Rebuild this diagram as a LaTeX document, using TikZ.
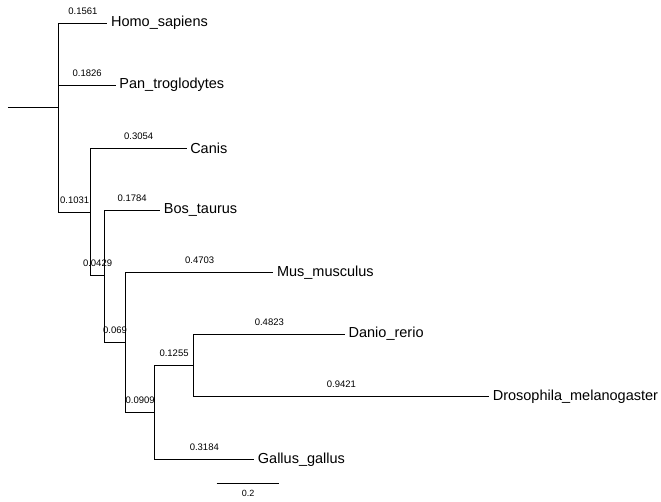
\documentclass[tikz,border=0pt]{standalone}
\usepackage{fontspec}
\newfontfamily\lsans{Liberation Sans}
\usetikzlibrary{calc}
\tikzset{
  branch/.style={draw=black, line width=0.9pt},
  tiplabel/.style={anchor=west, inner xsep=3.5pt, inner ysep=0pt, font=\lsans\fontsize{14.5}{17}\selectfont},
  elabel/.style={anchor=base, yshift=9pt, inner sep=0pt, font=\lsans\fontsize{9.5}{11}\selectfont},
  sblabel/.style={inner sep=0pt, font=\lsans\fontsize{9}{10}\selectfont}
}
\begin{document}
\begin{tikzpicture}[x=313.5pt, y=-1pt]
\useasboundingbox (0,0) rectangle (661/313.5,501);
% coordinates (x in branch-length units)
\coordinate (rootstart) at (0.0255,107);
\coordinate (root) at (0.1866,107);
\coordinate (homo) at (0.3427,23);
\coordinate (pan) at (0.3692,85);
\coordinate (n1) at (0.2897,212);
\coordinate (canis) at (0.5951,148.3);
\coordinate (n2) at (0.3326,275.7);
\coordinate (bos) at (0.5110,210);
\coordinate (n3) at (0.4016,342.3);
\coordinate (mus) at (0.8719,272.3);
\coordinate (n4) at (0.4925,412.7);
\coordinate (n5) at (0.6180,365.7);
\coordinate (danio) at (1.1003,334);
\coordinate (dros) at (1.5601,396.7);
\coordinate (gallus) at (0.8109,459.3);
% tip labels
\node[tiplabel] (lhomo) at (homo) {Homo\_sapiens};
\node[tiplabel] (lpan) at (pan) {Pan\_troglodytes};
\node[tiplabel] (lcanis) at (canis) {Canis};
\node[tiplabel] (lbos) at (bos) {Bos\_taurus};
\node[tiplabel] (lmus) at (mus) {Mus\_musculus};
\node[tiplabel] (ldanio) at (danio) {Danio\_rerio};
\node[tiplabel] (ldros) at (dros) {Drosophila\_melanogaster};
\node[tiplabel] (lgallus) at (gallus) {Gallus\_gallus};
% branches
\draw[branch] (rootstart) -- (root);
\draw[branch] (root) |- node[pos=0.75, elabel] {0.1561} (homo);
\draw[branch] (root) |- node[pos=0.75, elabel] {0.1826} (pan);
\draw[branch] (root) |- node[pos=0.75, elabel] {0.1031} (n1);
\draw[branch] (n1) |- node[pos=0.75, elabel] {0.3054} (canis);
\draw[branch] (n1) |- node[pos=0.75, elabel] {0.0429} (n2);
\draw[branch] (n2) |- node[pos=0.75, elabel] {0.1784} (bos);
\draw[branch] (n2) |- node[pos=0.75, elabel] {0.069} (n3);
\draw[branch] (n3) |- node[pos=0.75, elabel] {0.4703} (mus);
\draw[branch] (n3) |- node[pos=0.75, elabel] {0.0909} (n4);
\draw[branch] (n4) |- node[pos=0.75, elabel] {0.1255} (n5);
\draw[branch] (n5) |- node[pos=0.75, elabel] {0.4823} (danio);
\draw[branch] (n5) |- node[pos=0.75, elabel] {0.9421} (dros);
\draw[branch] (n4) |- node[pos=0.75, elabel] {0.3184} (gallus);
% scale bar
\coordinate (sb1) at (0.6912,483.7);
\coordinate (sb2) at (0.8912,483.7);
\draw[branch] (sb1) -- (sb2);
\node[sblabel] (sbl) at ($(sb1)!0.5!(sb2)+(0,9.6)$) {0.2};
\end{tikzpicture}
\end{document}
